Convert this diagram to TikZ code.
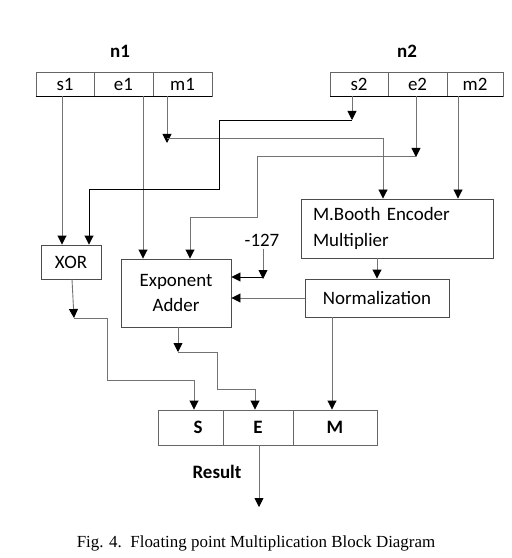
\documentclass[tikz,border=0pt]{standalone}
\usepackage{fontspec}
\setmainfont{Carlito}
\newfontfamily\capfont{Liberation Serif}
\usetikzlibrary{arrows.meta,calc}
\begin{document}
\begin{tikzpicture}[x=1bp,y=-1bp,
  line width=0.9bp,
  wire/.style={draw=black!55},
  dwire/.style={draw=black},
  arr/.style={-{Triangle[width=9bp,length=9bp,color=black]}},
  cell/.style={draw=black!60,minimum height=24bp,inner sep=0pt,font=\fontsize{19}{23}\selectfont},
  rcell/.style={draw=black!60,minimum height=35bp,inner sep=0pt,font=\fontsize{19}{23}\selectfont\bfseries},
  blk/.style={draw=black!70,inner sep=0pt,font=\fontsize{19}{26}\selectfont,align=center},
  boldlbl/.style={inner sep=2bp,font=\fontsize{19}{23}\selectfont\bfseries},
  plainlbl/.style={inner sep=2bp,font=\fontsize{19}{23}\selectfont}
]
\useasboundingbox (0,0) rectangle (512,558);

% input words
\node[boldlbl] (n1) at (120,51) {n1};
\node[boldlbl] (n2) at (407,51) {n2};
\node[cell,minimum width=58bp] (s1) at (65,84) {s1};
\node[cell,minimum width=59bp] (e1) at (123.5,84) {e1};
\node[cell,minimum width=59bp] (m1) at (182.5,84) {m1};
\node[cell,minimum width=58bp] (s2) at (359,84) {s2};
\node[cell,minimum width=59bp] (e2) at (417.5,84) {e2};
\node[cell,minimum width=56bp] (m2) at (475,84) {m2};
\draw[black,line width=1.2bp] (s1.south west) -- (m1.south east);
\draw[black,line width=1.2bp] (s2.south west) -- (m2.south east);

% blocks
\node[blk,minimum width=60bp,minimum height=34bp] (xor) at (71,262) {XOR};
\node[blk,minimum width=110bp,minimum height=68bp] (exp) at (176,293) {Exponent\\Adder};
\node[blk,minimum width=192bp,minimum height=59bp,text width=168bp,inner xsep=12bp,align=left] (booth) at (397,228.5) {M.Booth Encoder\\Multiplier};
\node[blk,minimum width=144bp,minimum height=38bp] (norm) at (377,298) {Normalization};
\node[plainlbl] (k127) at (262,240) {-127};

% result word
\node[rcell,minimum width=65bp] (rs) at (190.5,427.5) {\hspace*{15bp}S};
\node[rcell,minimum width=70bp] (re) at (258,427.5) {E};
\node[rcell,minimum width=84bp] (rm) at (335,427.5) {M};
\node[boldlbl] (res) at (217,472) {Result};

\node[font=\capfont\fontsize{17}{20}\selectfont] (cap) at (256,543) {Fig. 4.\ \ Floating point Multiplication Block Diagram};

% column helpers
\coordinate (c62) at (62,0);
\coordinate (c72) at (72,0);
\coordinate (c89) at (89,0);
\coordinate (c143) at (143,0);
\coordinate (c190) at (190,0);
\coordinate (c194) at (194,0);
\coordinate (c255) at (255,0);
\coordinate (c332) at (332,0);
\coordinate (c383) at (383,0);
\coordinate (c458) at (458,0);

% free ends and bends
\coordinate (m1tip) at (167,143);
\coordinate (m1turn) at (167,138);
\coordinate (s2tip) at (352,120);
\coordinate (s2bend) at (219,189);
\coordinate (e2tip) at (416,157);
\coordinate (e2turn) at (416,156);
\coordinate (e2bend) at (257,217);
\coordinate (ktip) at (263,279);
\coordinate (kturn) at (263,277);
\coordinate (xortip) at (74,318);
\coordinate (xbend) at (107,380);
\coordinate (exptip) at (178,352);
\coordinate (ebend) at (217,389);
\coordinate (out) at (259,507);

% connectors
\draw[wire,arr] (s1.south -| c62) -- (xor.north -| c62);
\draw[wire,arr] (e1.south -| c143) -- (exp.north -| c143);
\draw[wire,arr] (m1.south -| m1tip) -- (m1tip);
\draw[wire,arr] (m1turn) -| (booth.north -| c383);
\draw[wire,arr] (s2.south -| s2tip) -- (s2tip);
\draw[dwire,arr] (s2tip) -| (s2bend) -| (xor.north -| c89);
\draw[wire,arr] (e2.south -| e2tip) -- (e2tip);
\draw[wire,arr] (e2turn) -| (e2bend) -| (exp.north -| c190);
\draw[wire,arr] (m2.south -| c458) -- (booth.north -| c458);
\draw[wire,arr] (booth.south -| norm.north) -- (norm.north);
\draw[wire,arr] (k127.south -| ktip) -- (ktip);
\draw[dwire,arr] (kturn) -- (exp.east |- kturn);
\draw[wire,arr] (norm.west) -- (exp.east |- norm.west);
\draw[wire,arr] (norm.south -| c332) -- (rm.north -| c332);
\draw[wire,arr] (xor.south -| c72) -- (xortip);
\draw[wire,arr] (xortip) -| (xbend) -| (rs.north -| c194);
\draw[wire,arr] (exp.south -| exptip) -- (exptip);
\draw[wire,arr] (exptip) -| (ebend) -| (re.north -| c255);
\draw[wire,arr] (re.south -| out) -- (out);
\end{tikzpicture}
\end{document}
